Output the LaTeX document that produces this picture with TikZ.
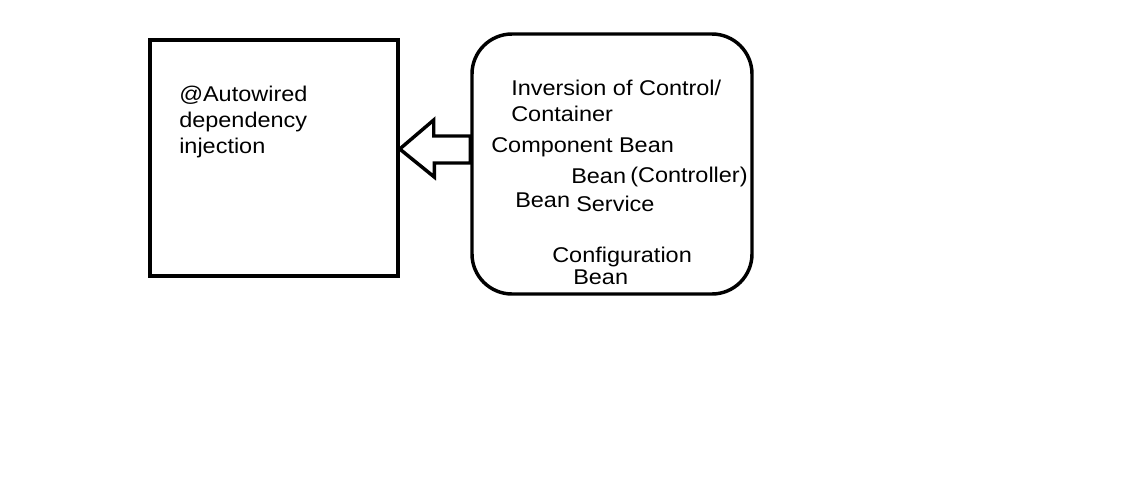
\documentclass[tikz,border=0pt]{standalone}
\usepackage{fontspec}
\setmainfont{Liberation Sans}[FakeStretch=1.1]
\tikzset{
    plainbox/.style={draw=black, line width=2.6pt, inner sep=0},
    roundbox/.style={draw=black, line width=2.6pt, rounded corners=30pt, inner sep=0},
    lbl/.style={anchor=base west, inner sep=0, font=\fontsize{16pt}{20pt}\selectfont},
    hollow/.style={draw=black, line width=2.6pt, line join=miter, fill=white}
}
\begin{document}
\begin{tikzpicture}[x=0.75pt, y=-0.75pt]
    \useasboundingbox (0,0) rectangle (1140,490);
    % the two boxes
    \node[plainbox, minimum width=186pt, minimum height=177pt] (di) at (274,158) {};
    \node[roundbox, minimum width=210pt, minimum height=195pt] (ioc) at (612,164) {};
    % hollow arrow from the container to the injection box
    \coordinate (tip) at (di.east |- 0,149);
    \draw[hollow] (tip) -- ++(34,-29) -- ++(0,16) -- (ioc.west |- 0,136)
        -- (ioc.west |- 0,163) -- ++(-36,0) -- ++(0,14) -- cycle;
    % texts
    \node[lbl] (di1) at (179,101) {@Autowired};
    \node[lbl] (di2) at (179,127) {dependency};
    \node[lbl] (di3) at (179,153) {injection};
    \node[lbl] (ioc1) at (511,95) {Inversion of Control/};
    \node[lbl] (ioc2) at (511,121) {Container};
    \node[lbl] (comp) at (491,152) {Component Bean};
    \node[lbl] (ctrlb) at (571,183) {Bean};
    \node[lbl] (ctrl) at (630,182) {(Controller)};
    \node[lbl] (srvb) at (515,207) {Bean};
    \node[lbl] (srv) at (576,211) {Service};
    \node[lbl] (cfg) at (552,262) {Configuration};
    \node[lbl] (cfgb) at (573,284) {Bean};
\end{tikzpicture}
\end{document}
